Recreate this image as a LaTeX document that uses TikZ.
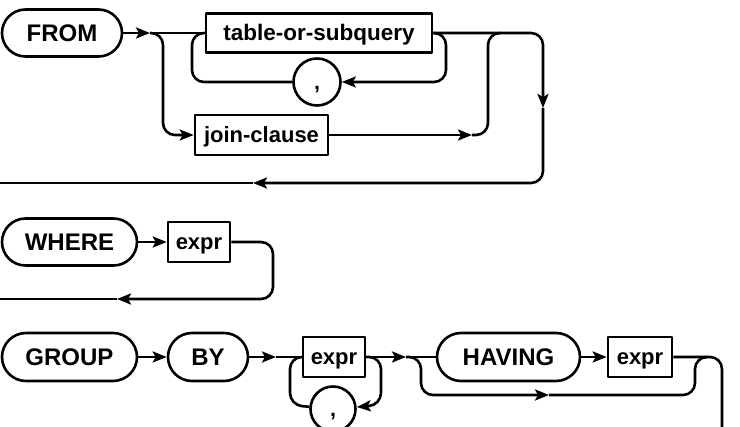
\documentclass[tikz,border=0pt]{standalone}
\usepackage{fontspec}
\setmainfont{Liberation Sans}
\usetikzlibrary{arrows.meta,shapes.misc}

\tikzset{
  wire/.style={line width=2.6pt, line join=round},
  rc/.style={rounded corners=12pt},
  arr/.style={-{Stealth[length=14pt,width=11pt,inset=3pt]}},
  kw/.style={draw, line width=2.6pt, rounded rectangle, inner sep=0pt,
    minimum height=47pt, text height=17.2pt, text depth=0pt,
    font=\bfseries\fontsize{24}{24}\selectfont},
  ident/.style={draw, line width=2.6pt, rectangle, inner sep=0pt,
    minimum height=40pt, text height=15.8pt, text depth=0pt,
    font=\bfseries\fontsize{22}{22}\selectfont},
  sepc/.style={draw, line width=2.6pt, circle, inner sep=0pt,
    minimum size=47pt, text height=15.5pt, text depth=0pt,
    font=\bfseries\fontsize{21.5}{21.5}\selectfont},
}

\begin{document}
\begin{tikzpicture}[x=1pt, y=-1pt, wire]
\useasboundingbox (0,0) rectangle (740,427);
\clip (0,0) rectangle (740,427);

% ---------- FROM clause ----------
\node[kw, minimum width=120pt] (from) at (62,33) {FROM};
\node[ident, minimum width=226pt, minimum height=39pt,
      font=\bfseries\fontsize{22.5}{22.5}\selectfont] (tos) at (319,33) {table-or-subquery};
\node[sepc] (c1) at (317,82) {,};
\node[ident, minimum width=133pt] (join) at (261.5,135) {join-clause};

\coordinate (f1) at (150,33);
\coordinate (j2) at (472,135);
\coordinate (d1) at (543,108);
\coordinate (l1) at (253,183);
\coordinate (e1) at (-5,183);

\draw[arr] (from.east) -- (f1);
\draw (f1) -- (tos.west);
\draw[arr, rc] (f1) -| (163,135) -- (join.west);
\draw[arr, rc] (tos.east) -| (446,82) -- (c1.east);
\draw[rc] (c1.west) -| (192,33) -- (tos.west);
\draw[arr] (join.east) -- (j2);
\draw[rc] (j2) -| (488,33) -- (500,33);
\draw[arr, rc] (tos.east) -| (d1);
\draw[arr, rc] (d1) |- (l1);
\draw (l1) -- (e1);

% ---------- WHERE clause ----------
\node[kw, minimum width=135pt] (where) at (69.5,242) {WHERE};
\node[ident, minimum width=62pt] (expr1) at (199,242) {expr};

\coordinate (l2) at (117,299);
\coordinate (e2) at (-5,299);

\draw[arr] (where.east) -- (expr1.west);
\draw[arr, rc] (expr1.east) -| (273,299) -- (l2);
\draw (l2) -- (e2);

% ---------- GROUP BY clause ----------
\node[kw, minimum width=135pt, minimum height=48pt] (group) at (69.5,357) {GROUP};
\node[kw, minimum width=80pt, minimum height=48pt] (by) at (208,357) {BY};
\node[ident, minimum width=62pt] (expr2) at (334,357) {expr};
\node[sepc, minimum size=45pt] (c2) at (333,409) {,};
\node[kw, minimum width=143pt, minimum height=48pt] (having) at (508.5,357) {HAVING};
\node[ident, minimum width=64pt] (expr3) at (640,357) {expr};

\coordinate (g1) at (276,357);
\coordinate (g2) at (406,357);
\coordinate (g3) at (549,395);
\coordinate (down) at (722,440);

\draw[arr] (group.east) -- (by.west);
\draw[arr] (by.east) -- (g1);
\draw (g1) -- (expr2.west);
\draw[arr, rc] (expr2.east) -| (381,405) -- (c2);
\draw[rc] (c2) -- (290,405) |- (expr2.west);
\draw[arr] (expr2.east) -- (g2);
\draw (g2) -- (having.west);
\draw[arr, rc] (g2) -| (421,395) -- (g3);
\draw[rc] (g3) -| (695,357) -- (707,357);
\draw[arr] (having.east) -- (expr3.west);
\draw[rc] (expr3.east) -| (down);
\end{tikzpicture}
\end{document}
